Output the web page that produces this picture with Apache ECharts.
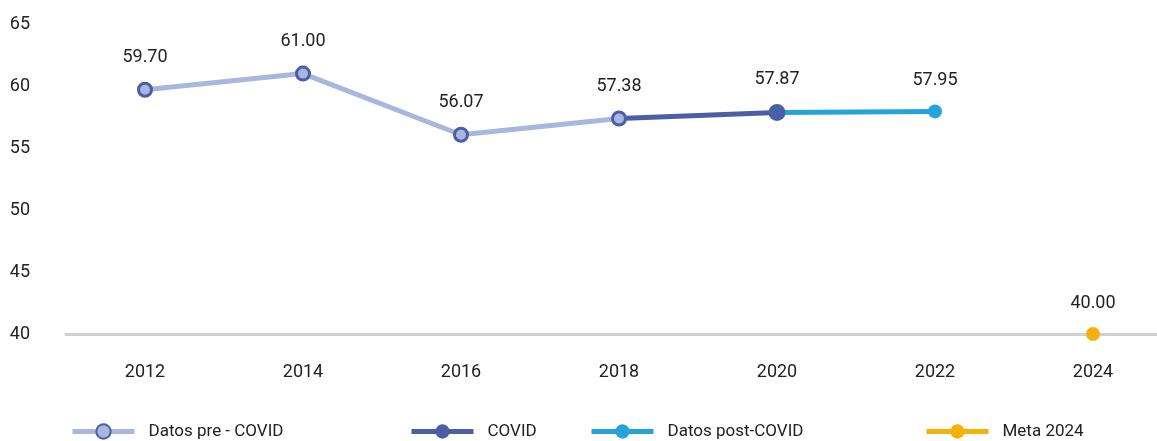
<!DOCTYPE html>
<html>
<head>
<meta charset="utf-8">
<script src="https://cdn.jsdelivr.net/npm/echarts@6/dist/echarts.min.js"></script>
<style>
  html, body { margin: 0; padding: 0; background: #fff; overflow: hidden; }
  /* el eje sigue más allá del borde derecho, como en el original */
  #chart { width: 1172px; height: 441px; }
</style>
</head>
<body>
<div id="chart"></div>
<script>
// años del eje x
const years = ["2012", "2014", "2016", "2018", "2020", "2022", "2024"];
// series (null = sin dato)
const preCovid = [59.70, 61.00, 56.07, 57.38, null, null, null];
const covid = [null, null, null, 57.38, 57.87, null, null];
const postCovid = [null, null, null, null, 57.87, 57.95, null];
const meta = [null, null, null, null, null, null, 40.00];

const cLight = "#a9b7de";
const cDark = "#4b5fa6";
const cCyan = "#26a3dc";
const cGold = "#f5b00d";
const font = "Roboto, 'Noto Sans', sans-serif";

const chart = echarts.init(document.getElementById("chart"));

// símbolo y etiqueta solo en el punto indicado
function onlyAt(arr, idx) {
  return arr.map((v, i) => (i === idx ? v : v === null ? null : { value: v, symbolSize: 0, label: { show: false } }));
}

const labelCfg = {
  show: true,
  position: "top",
  distance: 15,
  fontSize: 18,
  fontFamily: font,
  color: "#222",
  formatter: (p) => Number(p.value).toFixed(2),
};

const legendBase = {
  top: 423,
  padding: 0,
  itemWidth: 62,
  itemHeight: 18,
  lineStyle: { width: 5 },
  textStyle: { fontSize: 17, fontFamily: font, color: "#222", padding: [0, 0, 0, 9] },
  selectedMode: false,
};

chart.setOption({
  animation: false,
  grid: { left: 66, top: 24, right: 0, height: 310 },
  legend: [
    Object.assign({}, legendBase, { left: 70, data: ["Datos pre - COVID"] }),
    Object.assign({}, legendBase, { left: 409, data: ["COVID"] }),
    Object.assign({}, legendBase, { left: 589, data: ["Datos post-COVID"] }),
    Object.assign({}, legendBase, { left: 924, data: ["Meta 2024"] }),
  ],
  xAxis: {
    type: "category",
    data: years,
    axisLine: { lineStyle: { color: "#d0d0d0", width: 3 } },
    axisTick: { show: false },
    axisLabel: { fontSize: 18, fontFamily: font, color: "#222", margin: 29 },
  },
  yAxis: {
    type: "value",
    min: 40,
    max: 65,
    interval: 5,
    axisLine: { show: false },
    axisTick: { show: false },
    splitLine: { show: false },
    axisLabel: { fontSize: 18, fontFamily: font, color: "#222", margin: 36 },
  },
  series: [
    {
      name: "Datos post-COVID",
      type: "line",
      z: 2,
      data: onlyAt(postCovid, 5),
      symbol: "circle",
      symbolSize: 14,
      lineStyle: { color: cCyan, width: 5 },
      itemStyle: { color: cCyan },
      label: labelCfg,
    },
    {
      name: "COVID",
      type: "line",
      z: 3,
      data: onlyAt(covid, 4),
      symbol: "circle",
      symbolSize: 17,
      lineStyle: { color: cDark, width: 5 },
      itemStyle: { color: cDark },
      label: labelCfg,
    },
    {
      name: "Datos pre - COVID",
      type: "line",
      z: 4,
      data: preCovid,
      symbol: "circle",
      symbolSize: 13,
      lineStyle: { color: cLight, width: 5 },
      itemStyle: { color: cLight, borderColor: cDark, borderWidth: 3 },
      label: labelCfg,
    },
    {
      name: "Meta 2024",
      type: "line",
      z: 2,
      data: meta,
      symbol: "circle",
      symbolSize: 14,
      lineStyle: { color: cGold, width: 5 },
      itemStyle: { color: cGold },
      label: labelCfg,
    },
  ],
});
</script>
</body>
</html>
